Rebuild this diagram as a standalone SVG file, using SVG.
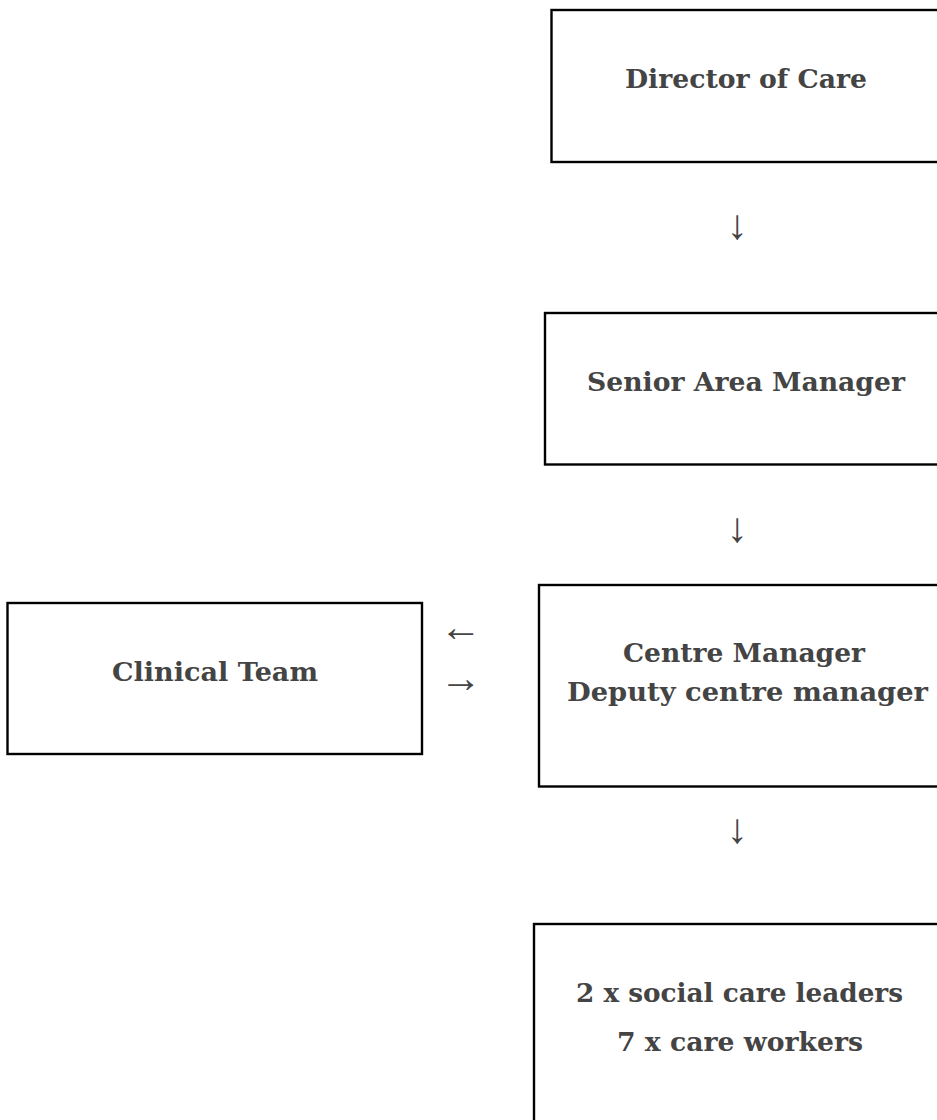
<svg xmlns="http://www.w3.org/2000/svg" width="937" height="1120" viewBox="0 0 937 1120">
<style>
.box{fill:#fff;stroke:#000;stroke-width:2.4}
.lbl{font-family:"DejaVu Serif","Liberation Serif",serif;font-weight:bold;font-size:26px;fill:#444;text-anchor:middle}
.arr{font-family:"Liberation Serif","DejaVu Serif",serif;font-size:42px;fill:#444;text-anchor:middle}
</style>
<rect width="937" height="1120" fill="#fff"/>
<g id="director">
<rect class="box" x="551.5" y="10" width="400" height="152"/>
<text class="lbl" x="746" y="88" textLength="242" lengthAdjust="spacingAndGlyphs">Director of Care</text>
</g>
<g id="senior">
<rect class="box" x="545" y="313" width="400" height="151.5"/>
<text class="lbl" x="746" y="391" textLength="318" lengthAdjust="spacingAndGlyphs">Senior Area Manager</text>
</g>
<g id="centre">
<rect class="box" x="539" y="585" width="410" height="201.5"/>
<text class="lbl" x="744" y="662" textLength="242" lengthAdjust="spacingAndGlyphs">Centre Manager</text>
<text class="lbl" x="747.5" y="701" textLength="361" lengthAdjust="spacingAndGlyphs">Deputy centre manager</text>
</g>
<g id="clinical">
<rect class="box" x="7.5" y="603" width="414.5" height="151"/>
<text class="lbl" x="215" y="681" textLength="206" lengthAdjust="spacingAndGlyphs">Clinical Team</text>
</g>
<g id="staff">
<rect class="box" x="534" y="924" width="420" height="220"/>
<text class="lbl" x="739.5" y="1002" textLength="327" lengthAdjust="spacingAndGlyphs">2 x social care leaders</text>
<text class="lbl" x="740" y="1051" textLength="246" lengthAdjust="spacingAndGlyphs">7 x care workers</text>
</g>
<g id="connectors">
<text class="arr" x="737" y="239">↓</text>
<text class="arr" x="737" y="542">↓</text>
<text class="arr" x="737" y="843">↓</text>
<text class="arr" x="460.5" y="641">←</text>
<text class="arr" x="460.5" y="692">→</text>
</g>
</svg>
